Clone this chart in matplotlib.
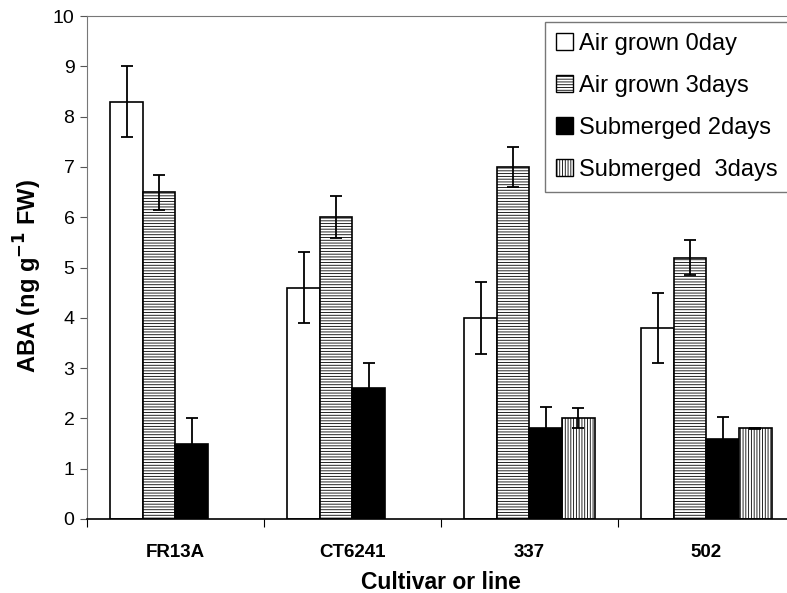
import numpy as np
import matplotlib
matplotlib.use("Agg")
import matplotlib.pyplot as plt
from matplotlib.patches import Patch

plt.rcParams['font.family'] = ['Liberation Sans', 'DejaVu Sans']
plt.rcParams['hatch.linewidth'] = 0.6

# data
cultivars = ['FR13A', 'CT6241', '337', '502']
series = ['Air grown 0day', 'Air grown 3days', 'Submerged 2days', 'Submerged  3days']
air_0day = [8.3, 4.6, 4.0, 3.8]
air_0day_err = [0.7, 0.7, 0.72, 0.7]
air_3days = [6.5, 6.0, 7.0, 5.2]
air_3days_err = [0.35, 0.42, 0.4, 0.35]
sub_2days = [1.5, 2.6, 1.8, 1.6]
sub_2days_err = [0.5, 0.5, 0.43, 0.42]
sub_3days = [0.0, 0.0, 2.0, 1.8]
sub_3days_err = [0.0, 0.0, 0.2, 0.01]

values = [air_0day, air_3days, sub_2days, sub_3days]
errors = [air_0day_err, air_3days_err, sub_2days_err, sub_3days_err]
faces = ['white', 'white', 'black', 'white']
hatches = [None, '------', None, '||||||']

fig = plt.figure(figsize=(7.87, 5.93), dpi=100)
# axes runs a bit past the right edge, as in the original crop
ax = fig.add_axes([0.1105, 0.1248, 0.8996, 0.848])

x = np.arange(len(cultivars))
w = 0.184
for i in range(4):
    pos = x + (i - 1.5) * w
    vals = np.array(values[i])
    err = np.array(errors[i])
    show = vals > 0
    ax.bar(pos[show], vals[show], w, color=faces[i], edgecolor='black',
           hatch=hatches[i], linewidth=1.2, zorder=2)
    ax.errorbar(pos[show], vals[show], yerr=err[show], fmt='none',
                ecolor='black', elinewidth=1.3, capsize=4.5, capthick=1.3, zorder=3)

ax.set_xlim(-0.5, 3.5)
ax.set_ylim(0, 10)
ax.set_yticks(range(0, 11))
ax.tick_params(axis='y', labelsize=14, length=5, direction='out', color='#555555', pad=4)
ax.set_xticks(np.arange(-0.5, 4.0, 1.0))
ax.set_xticklabels([])
ax.set_xticks(x, minor=True)
ax.set_xticklabels(cultivars, minor=True, fontsize=13.5, fontweight='bold')
ax.tick_params(axis='x', which='major', length=6, direction='out')
ax.tick_params(axis='x', which='minor', length=0, pad=18)

ax.spines['left'].set_color('#777777')
ax.spines['top'].set_color('#777777')
ax.spines['right'].set_visible(False)
ax.spines['bottom'].set_color('black')
ax.spines['bottom'].set_linewidth(1.2)

ax.set_ylabel('ABA (ng g$^{\\mathbf{-1}}$ FW)', fontsize=17, fontweight='bold')
ax.yaxis.set_label_coords(-0.061, 0.483)
ax.set_xlabel('Cultivar or line', fontsize=16.5, fontweight='bold', labelpad=7)

handles = [Patch(facecolor=faces[i], edgecolor='black', hatch=hatches[i], linewidth=1)
           for i in range(4)]
leg = ax.legend(handles, series, loc='upper left', bbox_to_anchor=(0.647, 0.988),
                fontsize=17, frameon=True, fancybox=False, handlelength=0.75,
                handleheight=0.75, handletextpad=0.25, labelspacing=0.85,
                borderpad=0.45, borderaxespad=0)
leg.get_frame().set_edgecolor('#555555')
leg.get_frame().set_linewidth(1)

fig.savefig('out.png', dpi=100)
